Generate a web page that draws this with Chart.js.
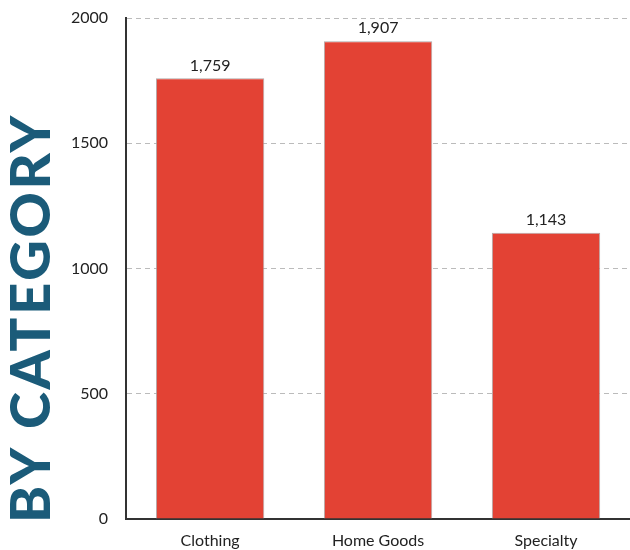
<!DOCTYPE html>
<html>
<head>
<meta charset="utf-8">
<script src="https://cdn.jsdelivr.net/npm/chart.js@4"></script>
<style>
html,body{margin:0;padding:0;background:#fff;}
#wrap{width:630px;height:550px;}
</style>
</head>
<body>
<div id="wrap"><canvas id="c" width="630" height="550"></canvas></div>
<script>
const categories = ["Clothing", "Home Goods", "Specialty"];
const values = [1759, 1907, 1143];
const yTicks = [0, 500, 1000, 1500, 2000];
const titleText = "BY CATEGORY";

const valueLabels = {
  id: 'valueLabels',
  afterDatasetsDraw(chart) {
    const ctx = chart.ctx;
    const meta = chart.getDatasetMeta(0);
    ctx.save();
    ctx.font = '16px Lato';
    ctx.fillStyle = '#222';
    ctx.textAlign = 'center';
    ctx.textBaseline = 'bottom';
    meta.data.forEach((bar, i) => {
      ctx.fillText(values[i].toLocaleString('en-US'), bar.x, bar.y - 5);
    });
    ctx.restore();
  }
};

const sideTitle = {
  id: 'sideTitle',
  afterDraw(chart) {
    const ctx = chart.ctx;
    ctx.save();
    ctx.translate(50, 523);
    ctx.rotate(-Math.PI / 2);
    ctx.font = '900 56px Lato';
    ctx.letterSpacing = '2.7px';
    ctx.fillStyle = '#1b5b79';
    ctx.textAlign = 'left';
    ctx.textBaseline = 'alphabetic';
    ctx.fillText(titleText, 0, 0);
    ctx.restore();
  }
};

new Chart(document.getElementById('c'), {
  type: 'bar',
  data: {
    labels: categories,
    datasets: [{
      data: values,
      backgroundColor: '#e34234',
      borderColor: 'rgba(170,160,160,0.9)',
      borderWidth: {top: 1, left: 1, right: 1, bottom: 0},
      barPercentage: 0.645,
      categoryPercentage: 1.0
    }]
  },
  options: {
    responsive: false,
    animation: false,
    devicePixelRatio: 1,
    layout: {padding: {top: 18, right: 0, bottom: 0, left: 53}},
    plugins: {
      legend: {display: false},
      tooltip: {enabled: false},
      title: {display: false}
    },
    scales: {
      x: {
        afterFit(scale) { scale.height = 31; },
        grid: {display: false, drawTicks: false},
        border: {display: true, color: '#333', width: 2},
        ticks: {color: '#222', font: {family: 'Lato', size: 16}, padding: 12}
      },
      y: {
        min: 0,
        max: 2000,
        afterBuildTicks(axis) { axis.ticks = yTicks.map(v => ({value: v})); },
        afterFit(scale) { scale.paddingTop = 0; scale.paddingBottom = 0; },
        grid: {color: '#bbb', drawTicks: false, lineWidth: 1},
        border: {display: true, color: '#333', width: 2, dash: [5, 4]},
        ticks: {color: '#222', font: {family: 'Lato', size: 16}, padding: 18,
                callback: (v) => String(v)}
      }
    }
  },
  plugins: [valueLabels, sideTitle]
});
</script>
</body>
</html>
